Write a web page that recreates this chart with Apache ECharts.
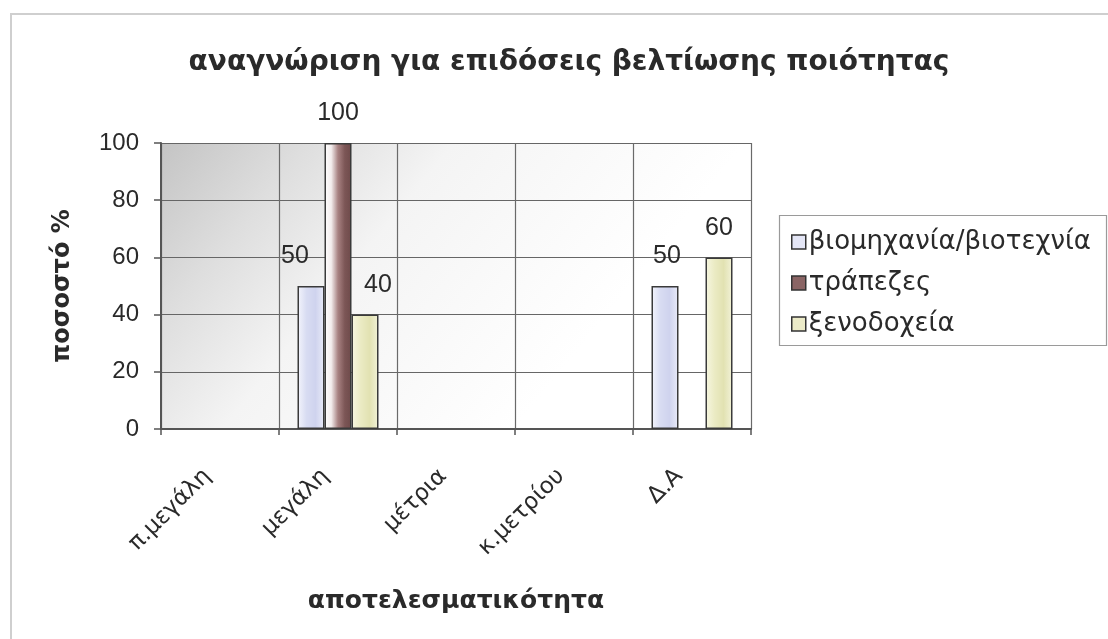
<!DOCTYPE html>
<html>
<head>
<meta charset="utf-8">
<script src="https://cdn.jsdelivr.net/npm/echarts@6/dist/echarts.min.js"></script>
<style>
  html, body { margin: 0; padding: 0; background: #ffffff; }
  #chart { width: 1108px; height: 639px; }
</style>
</head>
<body>
<div id="chart"></div>
<script>
// Categories on the x axis (effectiveness rating)
const categories = ['π.μεγάλη', 'μεγάλη', 'μέτρια', 'κ.μετρίου', 'Δ.Α'];
// Series names
const seriesNames = ['βιομηχανία/βιοτεχνία', 'τράπεζες', 'ξενοδοχεία'];
// Percentages per category (null = no response)
const industryValues = [null, 50, null, null, 50];
const bankValues = [null, 100, null, null, null];
const hotelValues = [null, 40, null, null, 60];
// Value-axis ticks
const yTicks = [0, 20, 40, 60, 80, 100];

const chart = echarts.init(document.getElementById('chart'));

const SANS = 'DejaVu Sans, Verdana, sans-serif';
const ARIAL = 'Liberation Sans, Arial, sans-serif';
const TEXT = '#2a2a2a';

function grad(stops) {
  return new echarts.graphic.LinearGradient(0, 0, 1, 0,
    stops.map((c, i) => ({ offset: i / (stops.length - 1), color: c })));
}

// bar fills: light lavender, shaded brown with a bright left edge, pale olive
const fills = [
  grad(['#f4f5fc', '#d8dcf2', '#cfd3ee', '#e9ebf8']),
  grad(['#ffffff', '#f3eded', '#a88282', '#7c5656', '#6e4a4a']),
  grad(['#f7f7e2', '#ebebc4', '#e2e2b2', '#f2f2d8'])
];

// horizontal nudges for value labels that would crowd the tall bar
const labelShift = [
  { 1: -16, 4: 2 },
  {},
  { 1: 13 }
];

function buildSeries(values, idx) {
  return {
    name: seriesNames[idx],
    type: 'bar',
    data: values.map((v, i) => ({
      value: v,
      label: { offset: [labelShift[idx][i] || 0, 0] }
    })),
    barWidth: 27,
    barGap: '0%',
    itemStyle: { color: fills[idx], borderColor: '#3a3a3a', borderWidth: 1.5 },
    label: {
      show: true,
      position: 'top',
      distance: 17,
      fontFamily: ARIAL,
      fontSize: 25,
      color: TEXT
    }
  };
}

chart.setOption({
  animation: false,
  backgroundColor: '#ffffff',
  graphic: [
    {
      // chart frame
      type: 'rect',
      shape: { x: 11, y: 14, width: 1120, height: 640 },
      style: { fill: 'none', stroke: '#cfcfcf', lineWidth: 2 },
      z: -10
    },
    {
      // legend frame
      type: 'rect',
      shape: { x: 779.5, y: 215.5, width: 327, height: 130 },
      style: { fill: '#ffffff', stroke: '#9a9a9a', lineWidth: 1.2 },
      z: -5
    }
  ],
  title: {
    text: 'αναγνώριση για επιδόσεις βελτίωσης ποιότητας',
    left: 564,
    textAlign: 'center',
    top: 44,
    textStyle: { fontFamily: SANS, fontWeight: 'bold', fontSize: 28, color: TEXT }
  },
  legend: {
    orient: 'vertical',
    left: 781,
    top: 216,
    padding: [13, 10, 10, 10],
    itemGap: 15,
    itemWidth: 14,
    itemHeight: 14,
    icon: 'rect',
    data: seriesNames.map((n, i) => ({
      name: n,
      itemStyle: { color: ['#e4e6f6', '#8a6464', '#ecebc8'][i], borderColor: '#333', borderWidth: 1.5 }
    })),
    textStyle: { fontFamily: SANS, fontSize: 26, color: TEXT, padding: [0, 0, 0, -2] }
  },
  grid: {
    left: 161,
    right: 357,
    top: 143,
    bottom: 210,
    show: true,
    borderWidth: 0,
    backgroundColor: new echarts.graphic.LinearGradient(0, 0, 0.6, 1, [
      { offset: 0, color: '#c4c4c4' },
      { offset: 0.25, color: '#dedede' },
      { offset: 0.5, color: '#f4f4f4' },
      { offset: 1, color: '#ffffff' }
    ])
  },
  xAxis: {
    type: 'category',
    data: categories,
    name: 'αποτελεσματικότητα',
    nameLocation: 'middle',
    nameGap: 160,
    nameTextStyle: { fontFamily: SANS, fontWeight: 'bold', fontSize: 25, color: TEXT },
    axisLine: { lineStyle: { color: '#555', width: 2 } },
    axisTick: { show: true, length: 6, lineStyle: { color: '#555', width: 1.5 } },
    splitLine: { show: true, lineStyle: { color: '#6a6a6a', width: 1.2 } },
    axisLabel: {
      interval: 0,
      rotate: 45,
      margin: 31,
      padding: [0, 18, 0, 0],
      fontFamily: SANS,
      fontSize: 23,
      color: TEXT
    }
  },
  yAxis: {
    type: 'value',
    min: yTicks[0],
    max: yTicks[yTicks.length - 1],
    interval: yTicks[1] - yTicks[0],
    name: 'ποσοστό %',
    nameLocation: 'middle',
    nameGap: 86,
    nameTextStyle: { fontFamily: SANS, fontWeight: 'bold', fontSize: 24, color: TEXT },
    axisLine: { show: true, lineStyle: { color: '#555', width: 2 } },
    axisTick: { show: true, length: 7, lineStyle: { color: '#555', width: 1.5 } },
    splitLine: { show: true, lineStyle: { color: '#666', width: 1.2 } },
    axisLabel: { margin: 22, fontFamily: ARIAL, fontSize: 24, color: TEXT }
  },
  series: [
    buildSeries(industryValues, 0),
    buildSeries(bankValues, 1),
    buildSeries(hotelValues, 2)
  ]
});
</script>
</body>
</html>
